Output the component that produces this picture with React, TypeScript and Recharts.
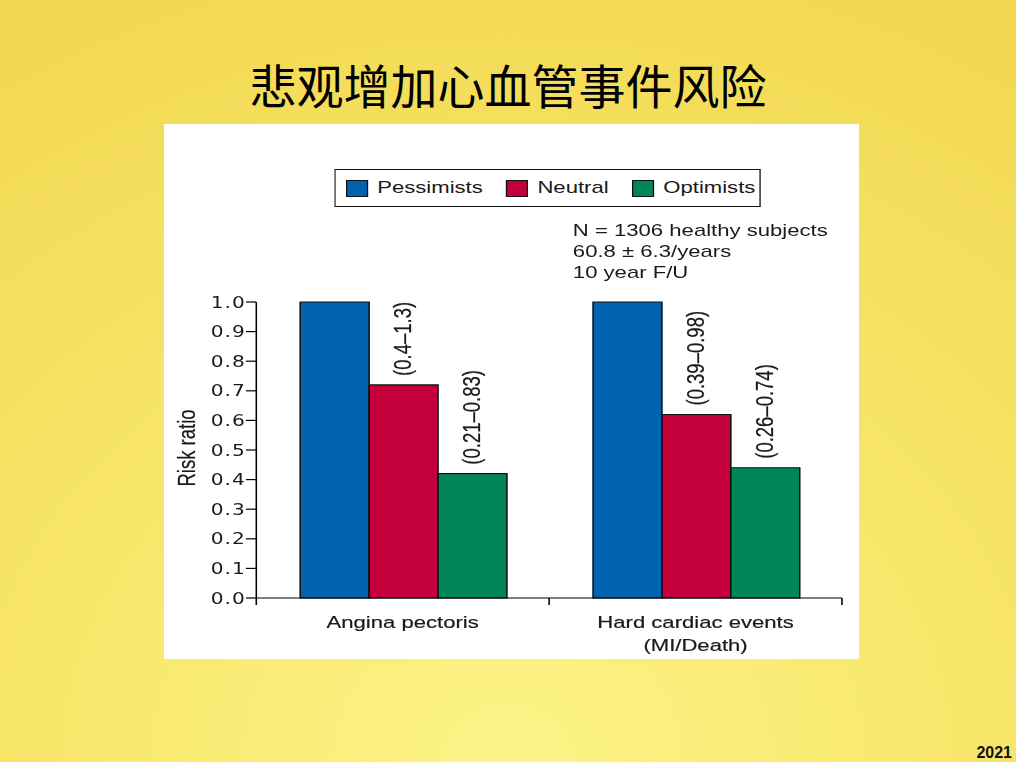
import React from "react";
import { BarChart, Bar, XAxis, YAxis, Legend, LabelList } from "recharts";

const categories = ["Angina pectoris", "Hard cardiac events\n(MI/Death)"];
const seriesNames = ["Pessimists", "Neutral", "Optimists"];
const pessimists = [1.0, 1.0];
const neutral = [0.72, 0.62];
const optimists = [0.42, 0.44];
const neutralCI = ["(0.4–1.3)", "(0.39–0.98)"];
const optimistsCI = ["(0.21–0.83)", "(0.26–0.74)"];
const yTicks = [0, 0.1, 0.2, 0.3, 0.4, 0.5, 0.6, 0.7, 0.8, 0.9, 1.0];
const notes = ["N = 1306 healthy subjects", "60.8 ± 6.3/years", "10 year F/U"];

const rows = categories.map((name, i) => ({
  name,
  pessimists: pessimists[i],
  neutral: neutral[i],
  optimists: optimists[i],
  neutralCI: neutralCI[i],
  optimistsCI: optimistsCI[i],
}));

// the pasted figure is stretched sideways, so the chart is drawn narrow and scaled
const STRETCH = 1.3;
const W = 535;
const H = 535;
const X_HEIGHT = 30;
const MARGIN = { top: 178, right: 13.5, bottom: 61 - X_HEIGHT, left: 0 };
const Y_WIDTH = 71;
const HALF_BAND = (W - Y_WIDTH - MARGIN.right) / categories.length / 2;

const FONT = "'Liberation Sans', Arial, sans-serif";
const INK = "#1a1a1a";

const renderXTick = (props: any) => {
  const { x, y, payload, index, visibleTicksCount } = props;
  const lines = String(payload.value).split("\n");
  return (
    <g>
      <line x1={x - HALF_BAND} y1={y} x2={x - HALF_BAND} y2={y + 7} stroke="#000" strokeWidth={1.2} />
      {index === visibleTicksCount - 1 && (
        <line x1={x + HALF_BAND} y1={y} x2={x + HALF_BAND} y2={y + 7} stroke="#000" strokeWidth={1.2} />
      )}
      {lines.map((l, i) => (
        <text key={i} x={x} y={y + 30 + i * 23} textAnchor="middle" fontSize={17} fontFamily={FONT} fill={INK} stroke={INK} strokeWidth={0.2}>
          {l}
        </text>
      ))}
    </g>
  );
};

const renderYTick = (props: any) => {
  const { x, y, payload } = props;
  return (
    <text
      x={x + 1}
      y={y}
      textAnchor="end"
      dominantBaseline="central"
      fontSize={15.5}
      letterSpacing={0.8}
      fontFamily="'DejaVu Sans', sans-serif"
      fill={INK}
    >
      {Number(payload.value).toFixed(1)}
    </text>
  );
};

const renderCI = (props: any) => {
  const { x, y, width, value } = props;
  const cx = x + width / 2;
  const cy = y - 9;
  return (
    <text
      transform={`translate(${cx},${cy}) rotate(-90)`}
      textAnchor="start"
      dominantBaseline="central"
      fontSize={18.5}
      fontFamily={FONT}
      fill={INK}
      stroke={INK}
      strokeWidth={0.2}
    >
      {value}
    </text>
  );
};

const renderYLabel = (props: any) => {
  const vb = props.viewBox || { x: 0, y: MARGIN.top, width: Y_WIDTH, height: 296 };
  const cx = vb.x + 18;
  const cy = vb.y + vb.height / 2 - 2;
  return (
    <text
      transform={`translate(${cx},${cy}) rotate(-90)`}
      textAnchor="middle"
      dominantBaseline="central"
      fontSize={18.5}
      fontFamily={FONT}
      fill={INK}
      stroke={INK}
      strokeWidth={0.2}
    >
      Risk ratio
    </text>
  );
};

const renderLegend = (props: any) => {
  const items = [...(props.payload || [])].sort(
    (a: any, b: any) => seriesNames.indexOf(a.value) - seriesNames.indexOf(b.value)
  );
  return (
    <div
      style={{
        border: "1.5px solid #111",
        height: 38,
        display: "flex",
        alignItems: "center",
        paddingLeft: 8,
        boxSizing: "border-box",
        fontFamily: FONT,
        fontSize: 17,
        color: INK,
        background: "#fff",
      }}
    >
      {items.map((it: any, i: number) => (
        <div key={i} style={{ display: "flex", alignItems: "center", marginRight: 18 }}>
          <span
            style={{
              display: "inline-block",
              width: 15,
              height: 15,
              background: it.color,
              border: "1px solid #111",
              marginRight: 7,
            }}
          />
          <span>{it.value}</span>
        </div>
      ))}
    </div>
  );
};

export default function App() {
  return (
    <div
      style={{
        position: "absolute",
        left: 0,
        top: 0,
        width: 1016,
        height: 762,
        overflow: "hidden",
        background:
          "radial-gradient(ellipse 95% 110% at 50% 100%, #fcf388 0%, #f8e76c 45%, #f2d851 100%)",
      }}
    >
      <div
        style={{
          position: "absolute",
          left: 0,
          top: 60,
          width: 1016,
          textAlign: "center",
          fontFamily: "'Noto Sans CJK SC', sans-serif",
          fontSize: 47,
          lineHeight: "47px",
          color: "#000",
        }}
      >
        悲观增加心血管事件风险
      </div>

      <div style={{ position: "absolute", left: 164, top: 124, width: 695, height: 535, background: "#fff" }}>
        <div
          style={{
            position: "absolute",
            left: 0,
            top: 0,
            width: W,
            height: H,
            transform: `scaleX(${STRETCH})`,
            transformOrigin: "0 0",
          }}
        >
          <BarChart width={W} height={H} data={rows} margin={MARGIN} barCategoryGap="15%" barGap={0}>
            <XAxis
              dataKey="name"
              height={X_HEIGHT}
              axisLine={{ stroke: "#000", strokeWidth: 1.2 }}
              tickLine={false}
              tickSize={0}
              tickMargin={0}
              tick={renderXTick}
              interval={0}
            />
            <YAxis
              width={Y_WIDTH}
              domain={[0, 1]}
              ticks={yTicks}
              interval={0}
              axisLine={{ stroke: "#000", strokeWidth: 1.2 }}
              tickLine={{ stroke: "#000", strokeWidth: 1.2 }}
              tickSize={8}
              tickMargin={1}
              tick={renderYTick}
              label={renderYLabel}
            />
            <Legend
              layout="horizontal"
              verticalAlign="middle"
              align="center"
              content={renderLegend}
              wrapperStyle={{ left: 131, top: 45, width: 328, height: 38 }}
            />
            <Bar dataKey="pessimists" name="Pessimists" fill="#0063b1" stroke="#111" strokeWidth={1.2} isAnimationActive={false} />
            <Bar dataKey="neutral" name="Neutral" fill="#c3003b" stroke="#111" strokeWidth={1.2} isAnimationActive={false}>
              <LabelList dataKey="neutralCI" content={renderCI} />
            </Bar>
            <Bar dataKey="optimists" name="Optimists" fill="#008658" stroke="#111" strokeWidth={1.2} isAnimationActive={false}>
              <LabelList dataKey="optimistsCI" content={renderCI} />
            </Bar>
          </BarChart>
          <div
            style={{
              position: "absolute",
              left: 314.5,
              top: 95.5,
              fontFamily: FONT,
              fontSize: 17,
              lineHeight: "21px",
              color: INK,
              whiteSpace: "pre",
            }}
          >
            {notes.map((n, i) => (
              <div key={i}>{n}</div>
            ))}
          </div>
        </div>
      </div>

      <div
        style={{
          position: "absolute",
          right: 4,
          top: 744.5,
          fontFamily: FONT,
          fontSize: 16,
          lineHeight: "16px",
          fontWeight: 700,
          color: "#111",
        }}
      >
        2021
      </div>
    </div>
  );
}
